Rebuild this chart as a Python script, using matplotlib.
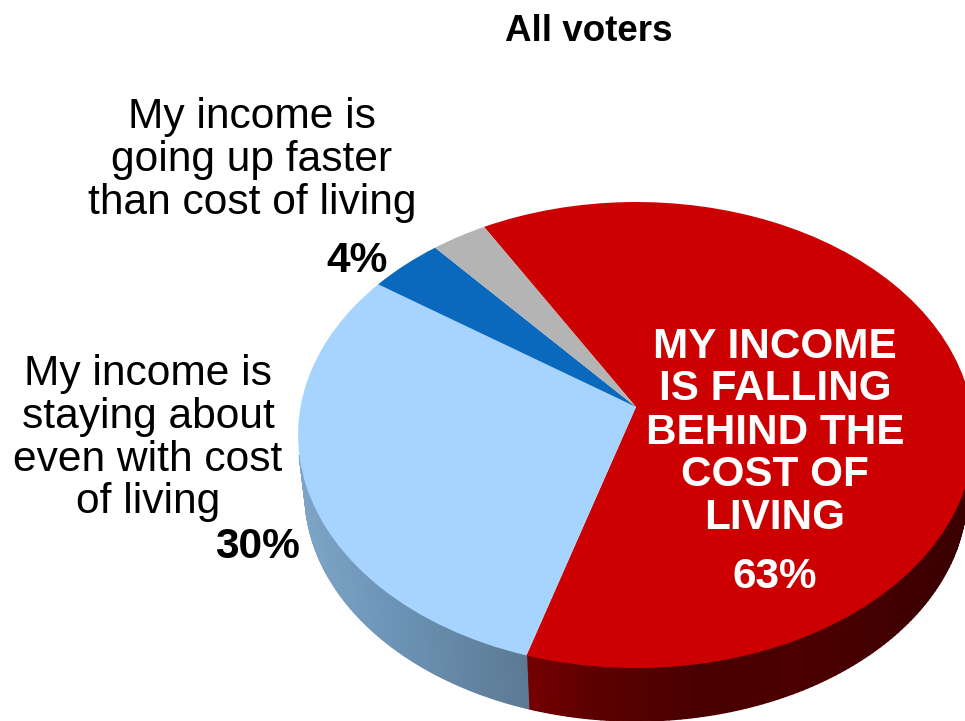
"""Tilted 3D-style pie of income vs. cost of living, all voters."""
import numpy as np
import matplotlib
matplotlib.use('Agg')
import matplotlib.pyplot as plt
from matplotlib.collections import PolyCollection
from matplotlib.colors import to_rgb
from matplotlib.transforms import Transform

plt.rcParams['font.family'] = ['Liberation Sans', 'DejaVu Sans']

W, H = 965, 721

# Slices clockwise from the red one
shares = [63, 30, 4, 3]
top_colors = ['#cc0000', '#a6d4ff', '#0a69bd', '#b4b4b4']

# Rim shading, dark wall colour by pixel column (only these two walls show)
wall_x = {0: [527, 590, 700, 800, 975], 1: [298, 400, 527]}
wall_colors = {
    0: ['#760000', '#5e0000', '#480000', '#4c0000', '#380000'],
    1: ['#80a6c8', '#6c93b5', '#5c7a94'],
}

title = 'All voters'
up_lines = ['My income is', 'going up faster', 'than cost of living']
even_lines = ['My income is', 'staying about', 'even with cost', 'of living']
behind_lines = ['MY INCOME', 'IS FALLING', 'BEHIND THE', 'COST OF', 'LIVING']

# Outline of the top face as an ellipse, pixel units
CX, CY, A0, B0, C0, K = 636.0, 435.0, 335.5, 233.0, 28.0, 0.1202
# Outline of the lower rim
RIM_CY, RIM_SX, RIM_SY = 493.0, 331.0 / 338.0, 228.0 / 233.0


class DiscProjection(Transform):
    """Perspective view of the unit disc, out in pixel coordinates."""
    input_dims = 2
    output_dims = 2
    has_inverse = False
    is_separable = False

    def transform_non_affine(self, values):
        values = np.asarray(values, dtype=float)
        u, v = values[:, 0], values[:, 1]
        d = 1 + K * v
        return np.column_stack([CX + A0 * u / d, CY - (B0 * v + C0) / d])


fig = plt.figure(figsize=(W / 100, H / 100), dpi=100)
ax = fig.add_axes([0, 0, 1, 1])

wedges, _ = ax.pie(shares, colors=top_colors, startangle=120, counterclock=False,
                   wedgeprops={'linewidth': 0})
ax.set_aspect('auto')
ax.set_xlim(0, W)
ax.set_ylim(H, 0)
ax.axis('off')

disc = DiscProjection()
for w in wedges:
    w.set_transform(disc + ax.transData)
    w.set_zorder(2)

# Side wall, thin strips between the top edge and the lower rim, front part only
for i in wall_x:
    w = wedges[i]
    theta = np.radians(np.linspace(w.theta1, w.theta2, 260))
    theta = theta[np.sin(theta) < -0.2]
    top = disc.transform(np.column_stack([np.cos(theta), np.sin(theta)]))
    low = np.column_stack([CX + (top[:, 0] - CX) * RIM_SX,
                           RIM_CY + (top[:, 1] - CY) * RIM_SY])
    rgb = np.array([to_rgb(c) for c in wall_colors[i]])
    polys, cols = [], []
    for k in range(len(theta) - 1):
        polys.append([top[k], top[k + 1], low[k + 1], low[k]])
        mid = (low[k, 0] + low[k + 1, 0]) / 2
        cols.append([np.interp(mid, wall_x[i], rgb[:, c]) for c in range(3)])
    ax.add_collection(PolyCollection(polys, facecolors=cols, edgecolors=cols,
                                     linewidths=1.0, zorder=1))

ax.text(589, 41, title, fontsize=26.5, fontweight='bold', ha='center', color='black')

for line, y in zip(up_lines, [128, 171, 214]):
    ax.text(252, y, line, fontsize=30.6, ha='center', color='black', zorder=3)
ax.text(357, 272, '4%', fontsize=30.6, fontweight='bold', ha='center', zorder=3)

for line, y in zip(even_lines, [385, 428, 471, 513]):
    ax.text(148, y, line, fontsize=30.6, ha='center', color='black', zorder=3)
ax.text(258, 558, '30%', fontsize=30.6, fontweight='bold', ha='center', zorder=3)

for line, y in zip(behind_lines, [358, 400, 444, 486, 529]):
    ax.text(775, y, line, fontsize=30.4, fontweight='bold', ha='center',
            color='white', zorder=3)
ax.text(775, 588, '63%', fontsize=30.4, fontweight='bold', ha='center',
        color='white', zorder=3)

fig.savefig('out.png', dpi=100)
